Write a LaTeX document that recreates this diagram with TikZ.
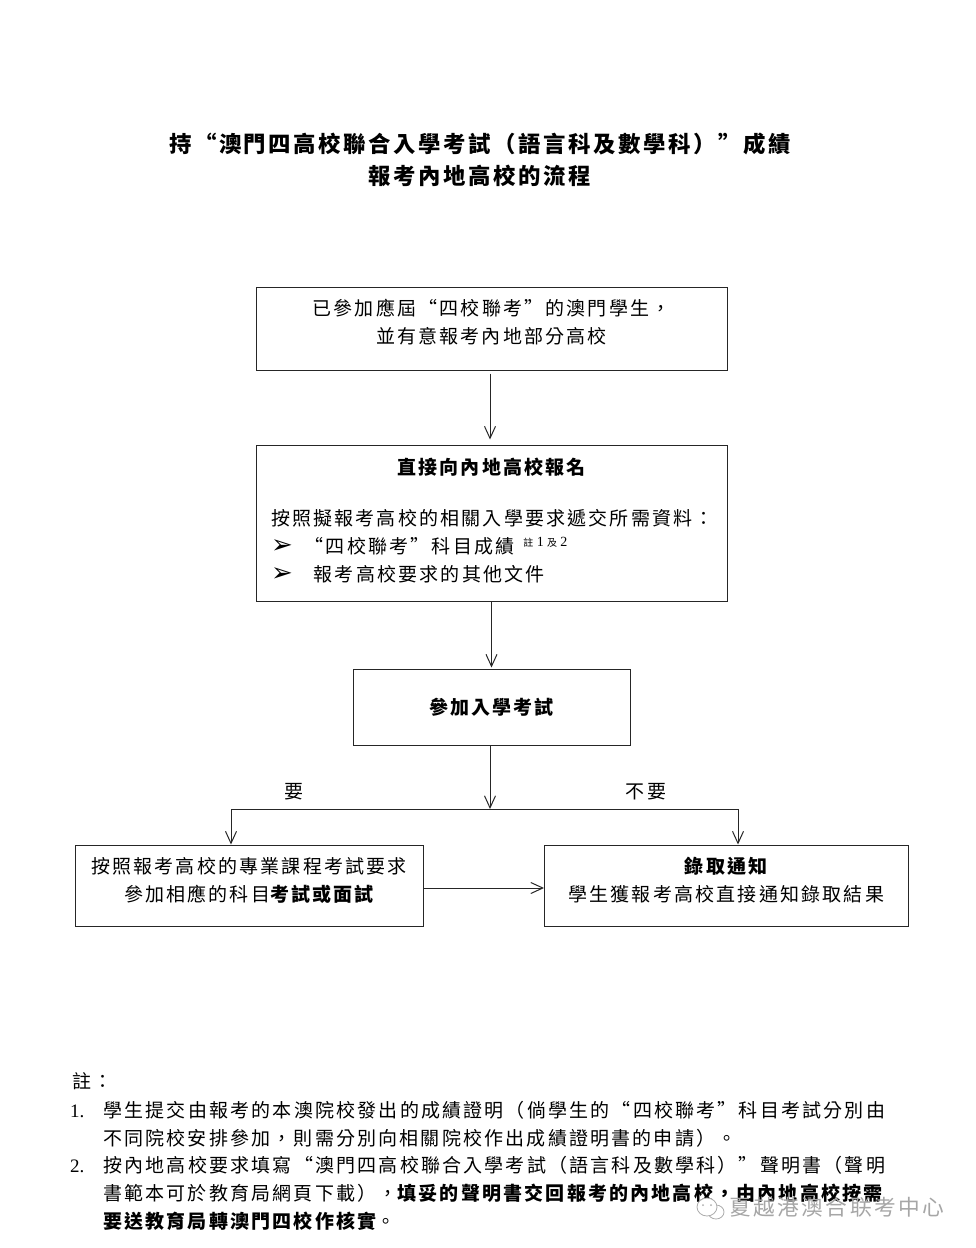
\documentclass[tikz,border=0pt]{standalone}
\usepackage{fontspec}
\setmainfont[LetterSpace=11.5]{Noto Sans CJK TC}
\newfontfamily\bulletfont{DejaVu Sans}
\newfontfamily\digitfont{Liberation Serif}
\newcommand{\bodysize}{\fontsize{19}{28}\selectfont}
\newcommand{\titlesize}{\fontsize{22.4}{32}\selectfont}
\usetikzlibrary{positioning,calc,arrows.meta}
\tikzset{
  figfont/.style={font=\bodysize},
  figbox/.style={draw=black!85, line width=1pt, align=center, inner sep=0pt},
  figarrow/.style={-{Straight Barb[length=12pt,width=11pt,line width=1pt]}, line width=1pt, black!85},
  figline/.style={line width=1pt, black!85},
  figtitle/.style={align=center, font=\titlesize\bfseries},
  fignote/.style={align=left, inner sep=0pt},
  figmark/.style={draw=gray!65, line width=0.8pt, fill=white},
}

\begin{document}
\begin{tikzpicture}[figfont, x=1pt, y=-1pt]
  \useasboundingbox[fill=white] (0,0) rectangle (976,1248);

  % Title
  \node[figtitle] (title) at (480,160)
    {持“澳門四高校聯合入學考試（語言科及數學科）”成績\\報考內地高校的流程};

  % Main spine nodes
  \node[figbox, minimum width=471pt, minimum height=83pt, text depth=14pt] (apply) at (491.5,328.5)
    {已參加應屆“四校聯考”的澳門學生，\\並有意報考內地部分高校};
  \node[figbox, below=74pt of apply, minimum width=471pt, minimum height=156pt, text width=441pt, align=left] (enrol)
    {{\centering\bfseries 直接向內地高校報名\par}\vspace{23pt}
     按照擬報考高校的相關入學要求遞交所需資料：\\
     {\bulletfont\fontsize{26}{26}\selectfont ➢}\hspace{12pt}“四校聯考”科目成績\hspace{9pt}\raisebox{7pt}{\fontsize{10}{10}\selectfont 註\,\,{\digitfont\fontsize{14}{14}\selectfont 1}\,\,及\,\,{\digitfont\fontsize{14}{14}\selectfont 2}}\\
     {\bulletfont\fontsize{26}{26}\selectfont ➢}\hspace{21pt}報考高校要求的其他文件\par\vspace{-22pt}\mbox{}};
  \node[figbox, below=67pt of enrol, minimum width=277pt, minimum height=76pt] (exam)
    {\bfseries 參加入學考試};

  % Branch nodes
  \node[figbox, minimum width=348pt, minimum height=81pt, text depth=13pt] (subject) at (249,885.5)
    {按照報考高校的專業課程考試要求\\參加相應的科目{\bfseries 考試或面試}};
  \node[figbox, right=120.5pt of subject, minimum width=363.5pt, minimum height=81pt, text depth=13pt] (offer)
    {{\bfseries 錄取通知}\\學生獲報考高校直接通知錄取結果};

  % Fork coordinates
  \coordinate (fork) at (490,809);
  \coordinate (forkleft) at (231,809);
  \coordinate (forkright) at (738,809);

  % Branch labels
  \node (yes) at (294,792) {要};
  \node (no) at (646,792) {不要};

  % Main spine arrows
  \draw[figarrow, shorten <=3pt, shorten >=5pt] (apply.south -| fork) -- (enrol.north -| fork);
  \draw[figarrow, shorten >=1pt] (enrol) -- (exam);
  \draw[figarrow] (exam.south -| fork) -- (fork);

  % Branch arrows
  \draw[figline] (forkleft) -- (forkright);
  \draw[figarrow] (forkleft) -- (subject.north -| forkleft);
  \draw[figarrow] (forkright) -- (offer.north -| forkright);
  \draw[figarrow] ([yshift=-2.5pt]subject.east) -- ([yshift=-2.5pt]offer.west);

  % Notes
  \node[fignote, anchor=west] (notehead) at (72,1081) {註：};
  \node[fignote, anchor=north west] (noteone) at (70,1101)
    {{\digitfont 1.}\hspace{19pt}學生提交由報考的本澳院校發出的成績證明（倘學生的“四校聯考”科目考試分別由\\
     \hspace*{33pt}不同院校安排參加，則需分別向相關院校作出成績證明書的申請）。};
  \node[fignote, below=9pt of noteone.south west, anchor=north west] (notetwo)
    {{\digitfont 2.}\hspace{19pt}按內地高校要求填寫“澳門四高校聯合入學考試（語言科及數學科）”聲明書（聲明\\
     \hspace*{33pt}書範本可於教育局網頁下載），{\bfseries 填妥的聲明書交回報考的內地高校，由內地高校按需}\\
     \hspace*{33pt}{\bfseries 要送教育局轉澳門四校作核實}。};

  % Watermark
  \node[font=\fontsize{21.7}{22}\selectfont, text=gray!70, anchor=west, inner sep=0pt] (mark) at (729,1207) {夏越港澳合联考中心};
  \draw[figmark] (716,1212) ellipse (8pt and 7pt);
  \draw[figmark] (707,1207) ellipse (10pt and 9pt);
  \fill[gray!65] (703,1205) circle (1pt) (711,1205) circle (1pt);
\end{tikzpicture}
\end{document}
